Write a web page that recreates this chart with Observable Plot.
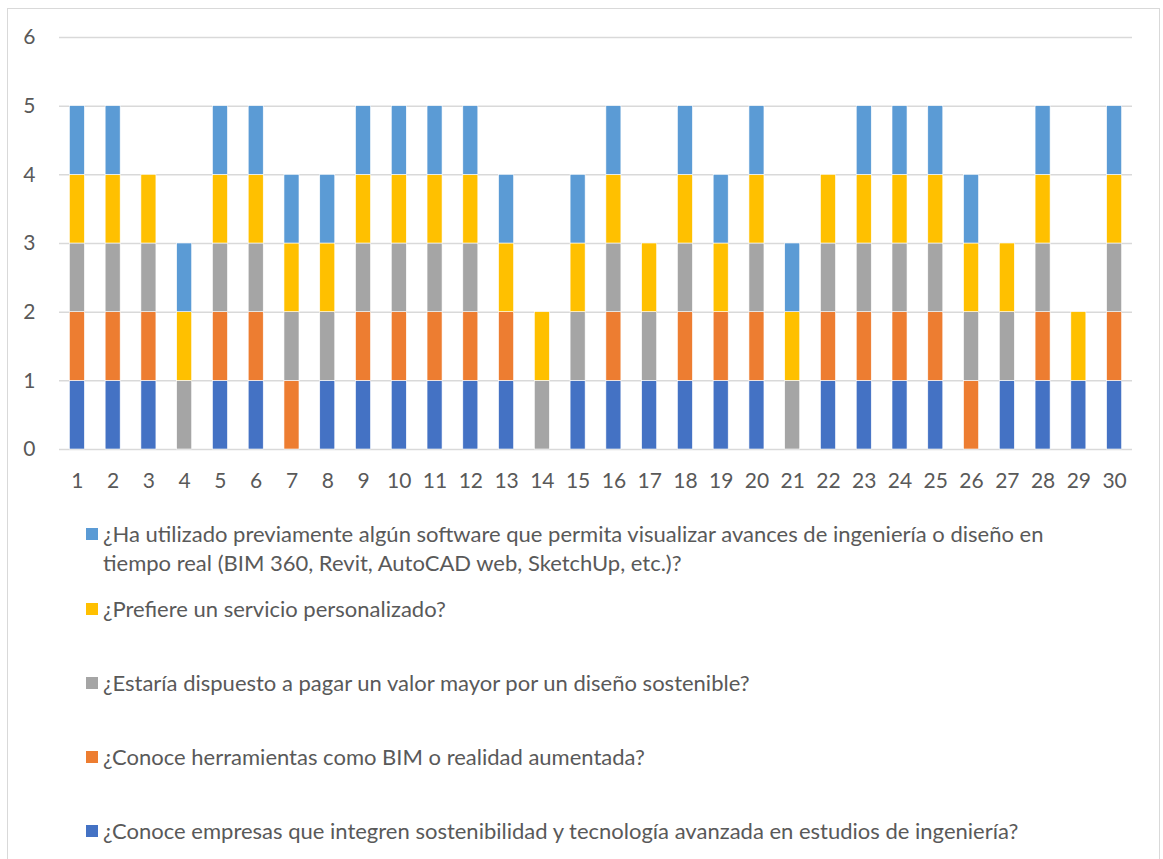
<!DOCTYPE html>
<html>
<head>
<meta charset="utf-8">
<script src="https://cdn.jsdelivr.net/npm/d3@7"></script>
<script src="https://cdn.jsdelivr.net/npm/@observablehq/plot@0.6"></script>
<style>
  html, body { margin: 0; padding: 0; background: #fff; }
  #frame {
    position: relative; width: 1163px; height: 859px; overflow: hidden;
    font-family: Lato, "Open Sans", sans-serif; color: #595959;
  }
  #border {
    position: absolute; left: 7px; top: 8px; width: 1153px; height: 870px;
    border: 1.5px solid #d9d9d9; box-sizing: border-box;
  }
  #chart { position: absolute; left: 0; top: 0; }
  .legend-item { position: absolute; left: 86px; font-size: 22px; line-height: 29px; }
  .legend-item .sw {
    position: absolute; left: 0; width: 12px; height: 12px; top: 9px;
  }
  .legend-item .tx { position: absolute; left: 17px; white-space: nowrap; }
</style>
</head>
<body>
<div id="frame">
  <div id="border"></div>
  <div id="chart"></div>
  <div id="legend"></div>
</div>
<script>
// Respondents 1..30
const respondents = d3.range(1, 31);

// Questions, bottom of the stack first
const questions = [
  "¿Conoce empresas que integren sostenibilidad y tecnología avanzada en estudios de ingeniería?",
  "¿Conoce herramientas como BIM o realidad aumentada?",
  "¿Estaría dispuesto a pagar un valor mayor por un diseño sostenible?",
  "¿Prefiere un servicio personalizado?",
  "¿Ha utilizado previamente algún software que permita visualizar avances de ingeniería o diseño en tiempo real (BIM 360, Revit, AutoCAD web, SketchUp, etc.)?"
];
const colors = ["#4472C4", "#ED7D31", "#A5A5A5", "#FFC000", "#5B9BD5"];

// Answers per question (1 = yes, 0 = no), one entry per respondent
const empresas      = [1,1,1,0,1,1,0,1,1,1,1,1,1,0,1,1,1,1,1,1,0,1,1,1,1,0,1,1,1,1];
const herramientas  = [1,1,1,0,1,1,1,0,1,1,1,1,1,0,0,1,0,1,1,1,0,1,1,1,1,1,0,1,0,1];
const pagar         = [1,1,1,1,1,1,1,1,1,1,1,1,0,1,1,1,1,1,0,1,1,1,1,1,1,1,1,1,0,1];
const personalizado = [1,1,1,1,1,1,1,1,1,1,1,1,1,1,1,1,1,1,1,1,1,1,1,1,1,1,1,1,1,1];
const software      = [1,1,0,1,1,1,1,1,1,1,1,1,1,0,1,1,0,1,1,1,1,0,1,1,1,1,0,1,0,1];

const yTicks = [0, 1, 2, 3, 4, 5, 6];

const series = [empresas, herramientas, pagar, personalizado, software];
const rows = [];
series.forEach((vals, qi) => {
  vals.forEach((v, i) => rows.push({respondent: respondents[i], question: questions[qi], value: v}));
});

// Plot area runs from x=59 to x=1132; the band range is widened so that the
// outer gap of each end band is half the gap between bars.
const plotLeft = 59, plotRight = 1132, gap = 0.58, n = respondents.length;
const step = (plotRight - plotLeft) / n;
const bandRange = [plotLeft - step * gap / 2, plotRight + step * gap / 2];

const chart = Plot.plot({
  width: 1163,
  height: 500,
  marginLeft: plotLeft,
  marginRight: 1163 - plotRight,
  marginTop: 37,
  marginBottom: 51,
  style: {fontFamily: "Lato, 'Open Sans', sans-serif", fontSize: "21px", color: "#595959", background: "transparent"},
  x: {domain: respondents, padding: gap, range: bandRange, round: false, label: null},
  y: {domain: [0, 6], label: null},
  color: {domain: questions, range: colors},
  marks: [
    Plot.ruleY(yTicks, {stroke: "#d9d9d9", strokeWidth: 1.5}),
    Plot.barY(rows, Plot.stackY({
      x: "respondent",
      y: "value",
      z: "question",
      fill: "question",
      order: questions,
      filter: d => d.value > 0,
      stroke: "white",
      strokeWidth: 0.6
    })),
    Plot.axisX({tickSize: 0, tickPadding: 24, fontSize: 21}),
    Plot.axisY({ticks: yTicks, tickFormat: "d", tickSize: 0, tickPadding: 24, fontSize: 21})
  ]
});
document.getElementById("chart").appendChild(chart);

// Legend, listed top-down in reverse stack order
const legend = document.getElementById("legend");
const legendTops = [519, 594, 668, 742, 816];
const legendLines = [
  ["¿Ha utilizado previamente algún software que permita visualizar avances de ingeniería o diseño en",
   "tiempo real (BIM 360, Revit, AutoCAD web, SketchUp, etc.)?"],
  ["¿Prefiere un servicio personalizado?"],
  ["¿Estaría dispuesto a pagar un valor mayor por un diseño sostenible?"],
  ["¿Conoce herramientas como BIM o realidad aumentada?"],
  ["¿Conoce empresas que integren sostenibilidad y tecnología avanzada en estudios de ingeniería?"]
];
[4, 3, 2, 1, 0].forEach((qi, k) => {
  const item = document.createElement("div");
  item.className = "legend-item";
  item.style.top = legendTops[k] + "px";
  const sw = document.createElement("div");
  sw.className = "sw";
  sw.style.background = colors[qi];
  const tx = document.createElement("div");
  tx.className = "tx";
  tx.innerHTML = legendLines[k].join("<br>");
  item.appendChild(sw);
  item.appendChild(tx);
  legend.appendChild(item);
});
</script>
</body>
</html>
